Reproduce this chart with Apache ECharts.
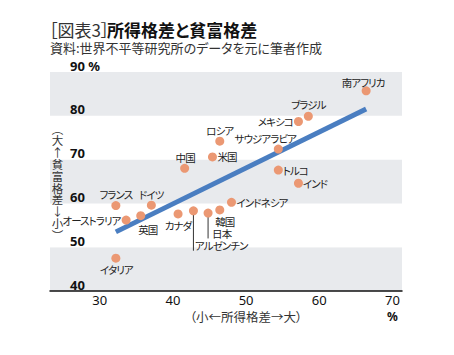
<!DOCTYPE html>
<html><head><meta charset="utf-8">
<script src="https://cdn.jsdelivr.net/npm/echarts@6/dist/echarts.min.js"></script>
<style>html,body{margin:0;padding:0;background:#fff}#c{width:454px;height:355px}
#c svg text{font-feature-settings:"palt" 1 !important;}
#c svg text[style*="10.5px"]{letter-spacing:-0.9px !important;}
#c svg text[style*="11.5px"]{writing-mode:vertical-rl !important; text-orientation:upright !important; font-feature-settings:normal !important; letter-spacing:0.3px !important;}</style>
</head><body><div id="c"></div>
<script>
// ---- data ----
const countries = ['フランス','ドイツ','オーストラリア','英国','カナダ','アルゼンチン','日本','韓国','インドネシア','イタリア','中国','米国','ロシア','サウジアラビア','トルコ','メキシコ','ブラジル','インド','南アフリカ'];
const incomeGap = [32.2,37.05,33.6,35.6,40.7,42.8,44.8,46.4,48.0,32.2,41.6,45.4,46.4,54.4,54.4,57.15,58.5,57.15,66.4];
const wealthGap = [59.5,59.6,56.2,57.2,57.6,58.3,57.8,58.5,60.25,47.5,68.0,70.6,74.2,72.4,67.6,78.7,79.9,64.6,85.7];
const trendX = [32.2, 66.4];
const trendY = [53.5, 81.55];
const xTicks = [30, 40, 50, 60, 70];
const yTicks = [40, 50, 60, 70, 80, 90];
const yName = '︵大↑貧富格差↓小︶';

// ---- label styling (not data) ----
const labelCfg = {
  'フランス':['center',0,-11], 'ドイツ':['center',0,-11], 'オーストラリア':['right',-5.5,0],
  '英国':['center',7,13.5], 'カナダ':['center',0,11.5], 'アルゼンチン':['left',1.5,35],
  '日本':['left',4,20.5], '韓国':['center',5,11.5], 'インドネシア':['left',5,0],
  'イタリア':['center',0.5,11.5], '中国':['center',0.5,-11], '米国':['left',5,0],
  'ロシア':['center',0,-10.7], 'サウジアラビア':['center',-13,-11], 'トルコ':['left',4.5,0],
  'メキシコ':['right',-5.5,0], 'ブラジル':['center',0,-11.3], 'インド':['left',4.5,0],
  '南アフリカ':['center',-3,-8.7]
};
const leaderDrop = {'日本':5.8, 'アルゼンチン':9.1};

const CJK = '"Noto Sans CJK JP", sans-serif';
const pts = countries.map((n,i)=>{
  const c = labelCfg[n];
  return {name:n, value:[incomeGap[i], wealthGap[i]],
    label:{show:true, position:'inside', align:c[0], verticalAlign:'middle', offset:[c[1],c[2]],
      formatter:n, fontSize:10.5, color:'#222', fontFamily:CJK}};
});
const leaderSeries = Object.keys(leaderDrop).map(n=>{
  const i = countries.indexOf(n);
  return {type:'line', data:[[incomeGap[i], wealthGap[i]],[incomeGap[i], wealthGap[i]-leaderDrop[n]]],
    symbol:'none', silent:true, z:1, lineStyle:{color:'#333', width:1}};
});

const chart = echarts.init(document.getElementById('c'), null, {renderer:'svg'});
chart.setOption({
  animation:false,
  backgroundColor:'#fff',
  grid:{left:50, right:52, top:72, bottom:64},
  xAxis:{type:'value', min:23.2, max:71.3,
    axisLine:{show:true, lineStyle:{color:'#111', width:1.5}},
    axisTick:{show:false}, splitLine:{show:false},
    axisLabel:{customValues:xTicks, margin:1, color:'#111', fontSize:13, fontFamily:'"Noto Sans", sans-serif',
      formatter:v=> v===70 ? '{n|70}\n{p|%}' : '{n|'+v+'}',
      rich:{n:{fontSize:13, lineHeight:16, color:'#111', fontFamily:'"Noto Sans", sans-serif'},
            p:{fontSize:12, lineHeight:16, fontWeight:'bold', color:'#111', fontFamily:'"Noto Sans", sans-serif'}}}},
  yAxis:{type:'value', min:yTicks[0], max:yTicks[yTicks.length-1], interval:10,
    axisLine:{show:false}, axisTick:{show:false}, splitLine:{show:false},
    splitArea:{show:true, areaStyle:{color:['#e8eaed','#ffffff']}},
    axisLabel:{inside:true, margin:20, verticalAlign:'bottom', fontSize:13, fontWeight:'bold', color:'#111',
      fontFamily:'"Noto Sans", sans-serif', formatter:v=> v===90 ? '90 %' : String(v)}},
  graphic:[
    {type:'text', x:49, y:29, silent:true,
     style:{text:'［図表3］', fill:'#333', font:'normal 17px "Noto Sans CJK JP"', align:'left', verticalAlign:'middle'}},
    {type:'text', x:107, y:29, silent:true,
     style:{text:'所得格差と貧富格差', fill:'#111', font:'bold 17px "Noto Sans CJK JP"', align:'left', verticalAlign:'middle'}},
    {type:'text', x:50, y:47.5, silent:true,
     style:{text:'資料:世界不平等研究所のデータを元に筆者作成', fill:'#333', font:'13px "Noto Sans CJK JP"', align:'left', verticalAlign:'middle'}},
    {type:'text', x:57.5, y:182.5, z:10, silent:true,
     style:{text:yName, fill:'#333', font:'11.5px "Noto Sans CJK JP"', align:'center', verticalAlign:'middle'}},
    {type:'text', x:246, y:316.7, z:10, silent:true,
     style:{text:'（小←所得格差→大）', fill:'#333', font:'12.5px "Noto Sans CJK JP"',
            align:'center', verticalAlign:'middle'}}
  ],
  series:[
    ...leaderSeries,
    {type:'line', data:trendX.map((x,i)=>[x,trendY[i]]), symbol:'none', silent:true, z:2,
     lineStyle:{color:'#4a7ec1', width:5, cap:'butt'}},
    {type:'scatter', data:pts, symbolSize:9, z:3, itemStyle:{color:'#eb9873', opacity:1}}
  ]
});
</script></body></html>
